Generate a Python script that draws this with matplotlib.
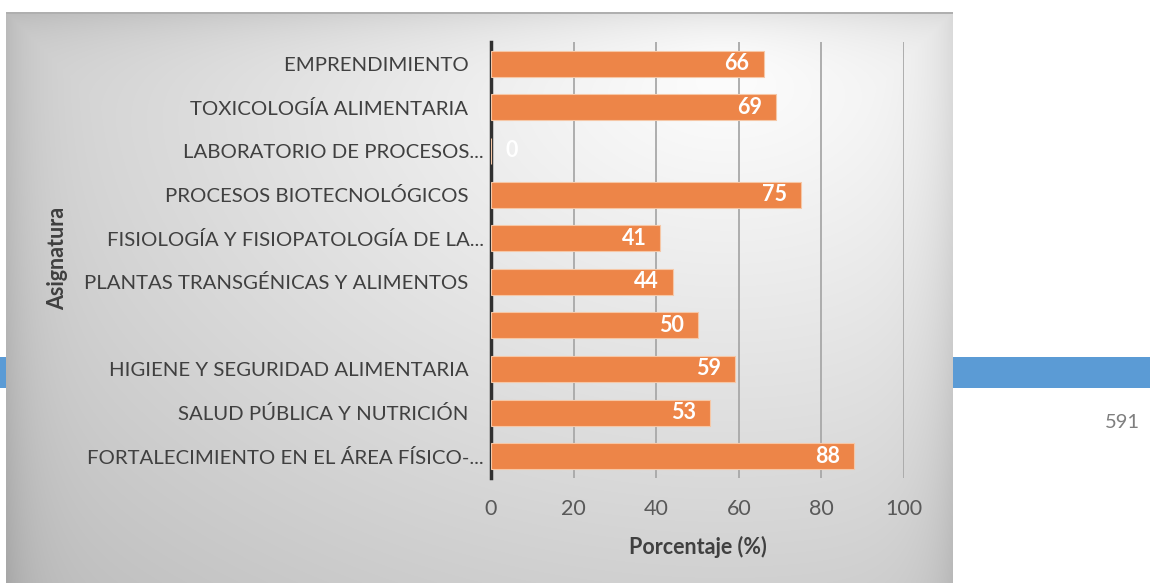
import numpy as np
import matplotlib
matplotlib.use('Agg')
import matplotlib.pyplot as plt
from matplotlib.patches import Rectangle

# Subjects (top to bottom) and the percentage for each one
asignaturas = ['EMPRENDIMIENTO   ', 'TOXICOLOGÍA ALIMENTARIA   ', 'LABORATORIO DE PROCESOS...',
               'PROCESOS BIOTECNOLÓGICOS   ', 'FISIOLOGÍA Y FISIOPATOLOGÍA DE LA...',
               'PLANTAS TRANSGÉNICAS Y ALIMENTOS   ', '', 'HIGIENE Y SEGURIDAD ALIMENTARIA   ',
               'SALUD PÚBLICA Y NUTRICIÓN   ', 'FORTALECIMIENTO EN EL ÁREA FÍSICO-...']
porcentajes = [66, 69, 0, 75, 41, 44, 50, 59, 53, 88]
x_ticks = [0, 20, 40, 60, 80, 100]
pagina = '591'

plt.rcParams['font.family'] = ['Lato', 'DejaVu Sans']

W, H = 1150, 583
fig = plt.figure(figsize=(W / 100, H / 100), dpi=100)
fig.patch.set_facecolor('white')

# blue header band of the page behind the chart
fig.patches.append(Rectangle((0, 1 - 388 / H), 1, 31 / H, transform=fig.transFigure,
                             facecolor='#5b9bd5', edgecolor='none', zorder=0))
fig.text(1140 / W, 1 - 423 / H, pagina, fontsize=14.5, color='#7f7f7f', ha='right', va='center')

# chart panel with a soft radial grey fill
px0, px1, py0, py1 = 6, 953, 12, 583
bg = fig.add_axes([px0 / W, 1 - py1 / H, (px1 - px0) / W, (py1 - py0) / H], zorder=1)
pw, ph = px1 - px0, py1 - py0
gx, gy = np.meshgrid(np.arange(pw), np.arange(ph))
d = np.sqrt(((gx - 720) / 900.0) ** 2 + ((gy - 50) / 650.0) ** 2)
v = 255 - 58 * np.clip(d, 0, 1.2)
edge = np.minimum.reduce([gx, pw - 1 - gx, gy + 0.0])
v = v - 22 * np.exp(-edge / 25.0)
v[:2, :] = 175
v = np.clip(v, 0, 255) / 255.0
bg.imshow(np.dstack([v, v, v]), aspect='auto', interpolation='bilinear')
bg.set_axis_off()

ax = fig.add_axes([491 / W, 1 - 478 / H, 413 / W, 436 / H], zorder=2)
ax.patch.set_alpha(0)

y = np.arange(len(asignaturas))
ax.barh(y, porcentajes, height=0.6, color='#ed8548', edgecolor='#f6c7a6', linewidth=0.8, zorder=3)

for i, p in enumerate(porcentajes):
    if p == 0:
        ax.annotate(str(p), (p, i), xytext=(14, 0), textcoords='offset pixels',
                    ha='left', va='center', color='white', fontsize=15.5, fontweight='bold', zorder=4)
    else:
        ax.annotate(str(p), (p, i), xytext=(-14, 0), textcoords='offset pixels',
                    ha='right', va='center', color='white', fontsize=15.5, fontweight='bold', zorder=4)

ax.set_xlim(0, 100)
ax.set_ylim(len(asignaturas) - 0.5, -0.5)
ax.set_xticks(x_ticks)
ax.set_yticks(y)
ax.set_yticklabels(asignaturas)
ax.tick_params(axis='y', length=0, pad=5, labelsize=14.7, labelcolor='#404040')
ax.tick_params(axis='x', length=0, pad=15, labelsize=15.5, labelcolor='#595959')

ax.grid(axis='x', color='#a8a8a8', linewidth=1.3)
ax.set_axisbelow(True)
for s in ['top', 'right', 'bottom']:
    ax.spines[s].set_visible(False)
ax.spines['left'].set_color('#303030')
ax.spines['left'].set_linewidth(2.5)

ax.set_xlabel('Porcentaje (%)', fontsize=15.5, fontweight='bold', color='#404040', labelpad=12)
fig.text(58 / W, 1 - 258 / H, 'Asignatura', rotation=90, fontsize=15.5, fontweight='bold',
         color='#404040', ha='center', va='center', zorder=3)

fig.savefig('out.png', dpi=100)
